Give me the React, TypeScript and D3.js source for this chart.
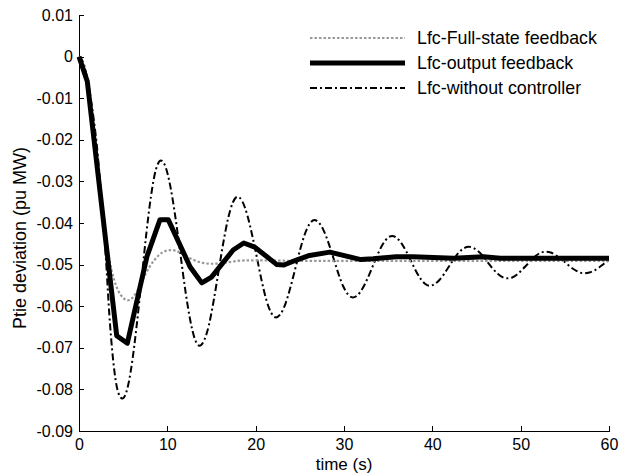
import React, { useEffect, useRef } from "react";
import * as d3 from "d3";

// time axis ticks and deviation ticks
const xTicks = [0, 10, 20, 30, 40, 50, 60];
const yTicks = [0.01, 0, -0.01, -0.02, -0.03, -0.04, -0.05, -0.06, -0.07, -0.08, -0.09];

const seriesNames = ["Lfc-Full-state feedback", "Lfc-output feedback", "Lfc-without controller"];

// Lfc-Full-state feedback (grey dotted)
const fullT = [0, 0.5, 1, 1.5, 2, 2.5, 3, 3.5, 4, 4.5, 5, 5.5, 6, 6.5, 7, 7.5, 8, 8.5, 9, 9.5, 10, 10.5, 11, 11.5, 12, 12.5, 13, 13.5, 14, 15, 16, 17, 18, 19, 20, 25, 30, 40, 50, 60];
const fullV = [0, -0.002, -0.0068, -0.0145, -0.0235, -0.033, -0.0425, -0.0495, -0.0538, -0.0565, -0.058, -0.0586, -0.0581, -0.0567, -0.0547, -0.0524, -0.0505, -0.049, -0.0478, -0.047, -0.0466, -0.0465, -0.0467, -0.0472, -0.0478, -0.0484, -0.0489, -0.0493, -0.0496, -0.0498, -0.0497, -0.0494, -0.0491, -0.049, -0.049, -0.0491, -0.0491, -0.0491, -0.0491, -0.0491];

// Lfc-output feedback (thick black, solver steps)
const outT = [0, 0.94, 4.27, 5.47, 7.7, 9.17, 10.1, 12.57, 13.9, 15.0, 17.45, 18.65, 19.9, 22.4, 23.2, 24.6, 26.1, 28.4, 31.9, 33.3, 35.9, 37.8, 42.4, 45.8, 47.7, 60];
const outV = [0, -0.006, -0.0671, -0.0689, -0.048, -0.0392, -0.0392, -0.0505, -0.0544, -0.053, -0.0465, -0.0448, -0.0458, -0.05, -0.0501, -0.0489, -0.0478, -0.047, -0.0488, -0.0486, -0.0481, -0.0481, -0.0485, -0.0481, -0.0485, -0.0485];

// Lfc-without controller (dash-dot)
const noCtrlT = [0, 0.5, 1, 1.5, 2, 2.5, 3, 3.5, 4, 4.45, 4.9,
  5.45, 5.99, 6.53, 7.08, 7.62, 8.16, 8.7, 9.28,
  9.83, 10.37, 10.92, 11.47, 12.01, 12.56, 13.1, 13.65,
  14.19, 14.73, 15.26, 15.8, 16.34, 16.88, 17.41, 17.95,
  18.49, 19.04, 19.58, 20.13, 20.67, 21.21, 21.76, 22.3,
  22.84, 23.39, 23.93, 24.48, 25.02, 25.56, 26.11, 26.65,
  27.19, 27.74, 28.28, 28.83, 29.37, 29.91, 30.46, 31.0,
  31.56, 32.11, 32.67, 33.23, 33.78, 34.34, 34.89, 35.45,
  35.98, 36.51, 37.04, 37.58, 38.11, 38.64, 39.17, 39.7,
  40.25, 40.8, 41.35, 41.9, 42.45, 43.0, 43.55, 44.1,
  44.65, 45.2, 45.75, 46.3, 46.85, 47.4, 47.95, 48.5,
  49.04, 49.59, 50.13, 50.68, 51.22, 51.76, 52.31, 52.85,
  53.4, 53.95, 54.5, 55.05, 55.6, 56.15, 56.7, 57.25,
  57.79, 58.34, 58.88, 59.42, 60];
const noCtrlV = [0, -0.0015, -0.006, -0.0125, -0.021, -0.033, -0.047, -0.064, -0.0755, -0.0808, -0.0822,
  -0.08, -0.0738, -0.0646, -0.0536, -0.0426, -0.0334, -0.0272, -0.025,
  -0.0267, -0.0315, -0.0387, -0.0473, -0.0558, -0.063, -0.0678, -0.0695,
  -0.0681, -0.0643, -0.0585, -0.0516, -0.0447, -0.0389, -0.0351, -0.0337,
  -0.0348, -0.038, -0.0427, -0.0482, -0.0538, -0.0585, -0.0616, -0.0627,
  -0.0618, -0.0593, -0.0555, -0.051, -0.0465, -0.0427, -0.0402, -0.0393,
  -0.04, -0.042, -0.045, -0.0486, -0.0522, -0.0552, -0.0572, -0.0579,
  -0.0573, -0.0557, -0.0533, -0.0505, -0.0477, -0.0453, -0.0437, -0.0431,
  -0.0436, -0.0449, -0.0468, -0.0491, -0.0514, -0.0533, -0.0546, -0.0551,
  -0.0547, -0.0537, -0.0522, -0.0504, -0.0486, -0.0471, -0.0461, -0.0457,
  -0.046, -0.0468, -0.048, -0.0495, -0.051, -0.0522, -0.053, -0.0533,
  -0.0531, -0.0524, -0.0513, -0.0501, -0.0489, -0.0478, -0.0471, -0.0469,
  -0.0471, -0.0477, -0.0485, -0.0495, -0.0505, -0.0513, -0.0519, -0.0521,
  -0.0519, -0.0514, -0.0507, -0.0498, -0.0489];

const FONT = "'Liberation Sans', Arial, sans-serif";

const App = () => {
  const svgRef = useRef<SVGSVGElement>(null);

  useEffect(() => {
    const width = 636;
    const height = 475;
    const svg = d3.select(svgRef.current);
    svg.selectAll("*").remove();
    svg.attr("width", width).attr("height", height);

    const x = d3.scaleLinear().domain([0, 60]).range([79, 609]);
    const y = d3.scaleLinear().domain([-0.09, 0.01]).range([431, 15]);

    const xAxis = svg
      .append("g")
      .attr("transform", `translate(0,${y(-0.09)})`)
      .call(d3.axisBottom(x).tickValues(xTicks).tickSizeInner(-5).tickSizeOuter(0).tickPadding(8).tickFormat(d3.format("d")));
    const yAxis = svg
      .append("g")
      .attr("transform", `translate(${x(0)},0)`)
      .call(
        d3
          .axisLeft(y)
          .tickValues(yTicks)
          .tickSizeInner(-5)
          .tickSizeOuter(0)
          .tickPadding(6)
          .tickFormat((d) => (+d === 0 ? "0" : (+d).toFixed(2)))
      );

    [xAxis, yAxis].forEach((g) => {
      g.attr("font-family", FONT).attr("font-size", 16);
      g.selectAll("path, line").attr("stroke", "#000").attr("stroke-width", 1).attr("shape-rendering", "crispEdges");
      g.selectAll("text").attr("fill", "#000");
    });

    svg
      .append("text")
      .attr("x", (x(0) + x(60)) / 2)
      .attr("y", 470)
      .attr("text-anchor", "middle")
      .attr("font-family", FONT)
      .attr("font-size", 17)
      .text("time (s)");

    svg
      .append("text")
      .attr("transform", `translate(26,238) rotate(-90)`)
      .attr("text-anchor", "middle")
      .attr("font-family", FONT)
      .attr("font-size", 18)
      .text("Ptie deviation (pu MW)");

    const line = (ts: number[], vs: number[], curve: d3.CurveFactory) =>
      d3
        .line<number>()
        .x((_, i) => x(ts[i]))
        .y((v) => y(v))
        .curve(curve)(vs);

    const styles = [
      { stroke: "#999", width: 2.2, dash: "2.5,2" },
      { stroke: "#000", width: 5, dash: null },
      { stroke: "#000", width: 2, dash: "7,3,2,3" },
    ];

    const paths = [
      line(fullT, fullV, d3.curveMonotoneX),
      line(outT, outV, d3.curveLinear),
      line(noCtrlT, noCtrlV, d3.curveMonotoneX),
    ];

    // draw dash-dot first, then dotted, then solid on top
    [2, 0, 1].forEach((i) => {
      svg
        .append("path")
        .attr("d", paths[i])
        .attr("fill", "none")
        .attr("stroke", styles[i].stroke)
        .attr("stroke-width", styles[i].width)
        .attr("stroke-linejoin", "round")
        .attr("stroke-dasharray", styles[i].dash);
    });

    // legend
    const legend = svg.append("g");
    seriesNames.forEach((name, i) => {
      const cy = 38 + i * 25;
      legend
        .append("line")
        .attr("x1", 310)
        .attr("x2", 405)
        .attr("y1", cy)
        .attr("y2", cy)
        .attr("stroke", styles[i].stroke)
        .attr("stroke-width", styles[i].width)
        .attr("stroke-dasharray", styles[i].dash);
      legend
        .append("text")
        .attr("x", 417)
        .attr("y", cy + 6)
        .attr("font-family", FONT)
        .attr("font-size", 17.8)
        .text(name);
    });
  }, []);

  return (
    <div style={{ position: "absolute", left: 0, top: 0, background: "#fff" }}>
      <svg ref={svgRef}></svg>
    </div>
  );
};

export default App;
